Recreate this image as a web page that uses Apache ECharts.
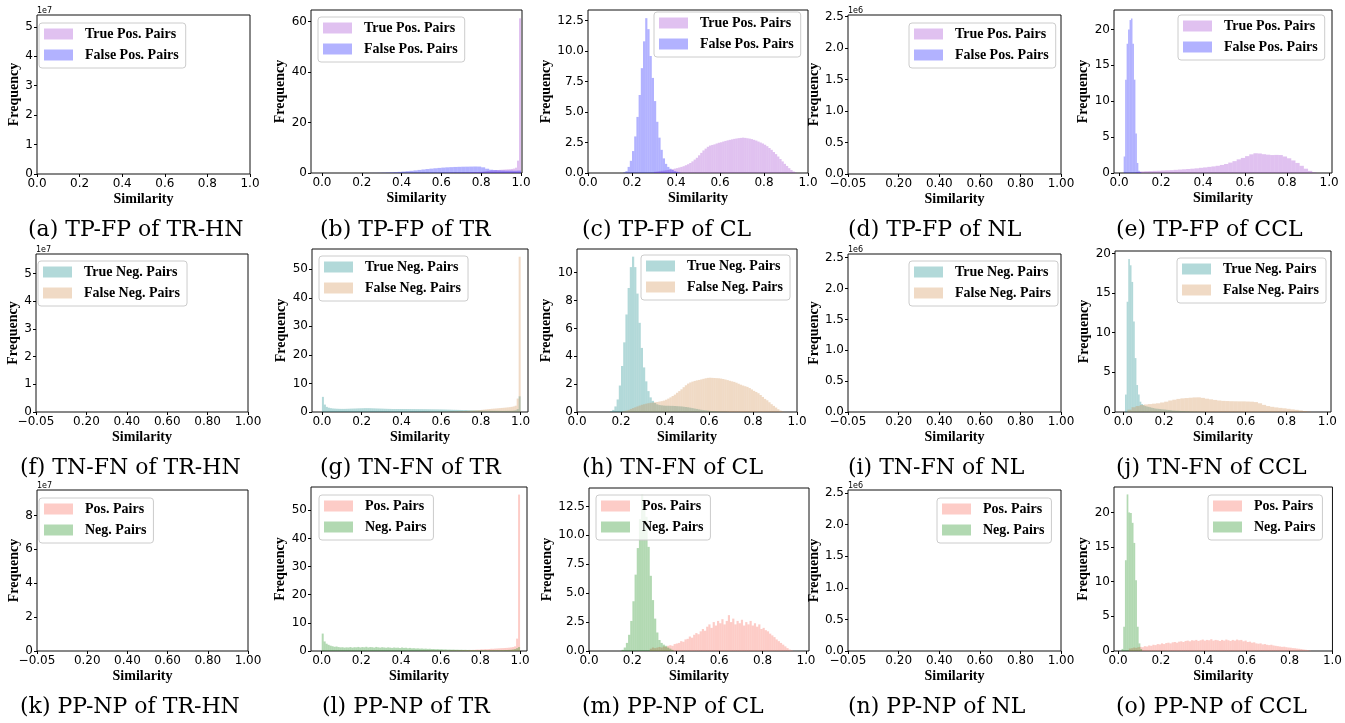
<!DOCTYPE html>
<html><head><meta charset="utf-8">
<script src="https://cdn.jsdelivr.net/npm/echarts@6/dist/echarts.min.js"></script>
<style>html,body{margin:0;padding:0;background:#fff}#c{width:1345px;height:723px}</style>
</head><body><div id="c"></div>
<script>
// ---------------- DATA (histogram bin heights, density) ----------------
const NAMES_TPFP = ['True Pos. Pairs', 'False Pos. Pairs'];
const NAMES_TNFN = ['True Neg. Pairs', 'False Neg. Pairs'];
const NAMES_PPNP = ['Pos. Pairs', 'Neg. Pairs'];
const CAPTIONS = ['(a) TP-FP of TR-HN','(b) TP-FP of TR','(c) TP-FP of CL','(d) TP-FP of NL','(e) TP-FP of CCL',
  '(f) TN-FN of TR-HN','(g) TN-FN of TR','(h) TN-FN of CL','(i) TN-FN of NL','(j) TN-FN of CCL',
  '(k) PP-NP of TR-HN','(l) PP-NP of TR','(m) PP-NP of CL','(n) PP-NP of NL','(o) PP-NP of CCL'];

// tick values
const ticksX01 = [0, 0.2, 0.4, 0.6, 0.8, 1.0];
const ticksXNeg = [-0.05, 0.2, 0.4, 0.6, 0.8, 1.0];
const ticksY5 = [0, 1, 2, 3, 4, 5];
const ticksY60 = [0, 20, 40, 60];
const ticksY12 = [0, 2.5, 5, 7.5, 10, 12.5];
const ticksY25 = [0, 0.5, 1, 1.5, 2, 2.5];
const ticksY20 = [0, 5, 10, 15, 20];
const ticksY50 = [0, 10, 20, 30, 40, 50];
const ticksY10 = [0, 2, 4, 6, 8, 10];
const ticksY8 = [0, 2, 4, 6, 8];

// (b) TR  TP-FP
const bTP_bins = [0.60, 0.01];
const bTP = [0.05,0.05,0.06,0.07,0.08,0.09,0.10,0.11,0.12,0.13,0.15,0.17,0.19,0.21,0.24,0.27,0.30,0.34,0.38,0.43,
  0.50,0.60,0.72,0.85,0.95,1.05,1.10,1.15,1.20,1.25,1.30,1.35,1.40,1.45,1.50,1.60,1.75,2.10,4.90,61.3];
const bFP_bins = [0.24, 0.02];
const bFP = [0.03,0.05,0.08,0.12,0.18,0.25,0.34,0.45,0.58,0.72,0.88,1.05,1.22,1.40,1.57,1.73,1.88,2.02,2.15,2.25,
  2.33,2.40,2.45,2.50,2.52,2.55,2.58,2.55,2.25,1.70,1.30,1.15,1.05,1.00,0.95,0.95,0.90,0.95];
// (c) CL  TP-FP
const cTP_bins = [0.30, 0.01];
const cTP = [0.10,0.12,0.15,0.18,0.20,0.22,0.25,0.28,0.32,0.36,0.40,0.45,0.50,0.56,0.64,0.72,0.82,0.95,1.10,1.25,
  1.45,1.65,1.85,2.00,2.15,2.25,2.30,2.35,2.42,2.48,2.52,2.58,2.63,2.68,2.72,2.76,2.80,2.83,2.86,2.88,
  2.90,2.88,2.85,2.82,2.78,2.72,2.66,2.58,2.50,2.42,2.32,2.20,2.05,1.90,1.72,1.55,1.35,1.15,0.95,0.75,
  0.58,0.40,0.25,0.12,0.04];
const cFP_bins = [0.16, 0.01];
const cFP = [0.05,0.15,0.50,1.00,1.80,3.00,4.60,6.40,8.60,10.8,12.7,11.8,9.6,7.8,5.9,4.2,2.9,1.9,1.2,0.75,
  0.50,0.35,0.25,0.15,0.10,0.05];
// (e) CCL TP-FP
const eTP_bins = [0.08, 0.02];
const eTP = [0.15,0.22,0.25,0.27,0.30,0.32,0.35,0.38,0.40,0.44,0.48,0.52,0.56,0.60,0.65,0.72,0.78,0.85,0.92,1.00,
  1.12,1.25,1.45,1.65,1.90,2.10,2.35,2.60,2.75,2.72,2.62,2.55,2.50,2.52,2.50,2.30,2.05,1.75,1.40,1.00,
  0.60,0.30,0.08];
const eFP_bins = [0.022, 0.007];
const eFP = [2.3,13.0,18.0,20.0,21.3,21.5,18.0,13.0,5.5,1.4,0.3,0.1];
// (g) TR  TN-FN
const gTN_bins = [0.0, 0.01];
const gTN = [5.3,2.6,1.8,1.5,1.35,1.25,1.2,1.15,1.12,1.1, 1.1,1.1,1.12,1.15,1.18,1.2,1.22,1.25,1.28,1.3,
  1.32,1.35,1.35,1.35,1.33,1.3,1.28,1.25,1.22,1.2, 1.18,1.15,1.12,1.1,1.08,1.05,1.05,1.05,1.05,1.05,
  1.05,1.04,1.04,1.03,1.03,1.02,1.02,1.01,1.01,1.0, 1.0,0.99,0.98,0.97,0.96,0.95,0.94,0.93,0.92,0.91,
  0.9,0.88,0.86,0.84,0.82,0.8,0.78,0.76,0.74,0.72, 0.7,0.68,0.66,0.64,0.62,0.6,0.58,0.56,0.54,0.52,
  0.5,0.49,0.48,0.47,0.46,0.45,0.44,0.43,0.42,0.41, 0.4,0.4,0.41,0.42,0.43,0.45,0.5,0.6,1.0,5.5];
const gFN_bins = [0.50, 0.01];
const gFN = [0.05,0.05,0.06,0.06,0.07,0.07,0.08,0.08,0.09,0.10, 0.11,0.12,0.13,0.14,0.16,0.18,0.20,0.22,0.24,0.27,
  0.30,0.33,0.36,0.40,0.44,0.48,0.52,0.57,0.62,0.68, 0.75,0.82,0.90,0.98,1.05,1.12,1.18,1.24,1.30,1.36,
  1.42,1.48,1.55,1.62,1.70,1.80,1.95,2.20,4.70,54.4];
// (h) CL  TN-FN
const hTN_bins = [0.15, 0.01];
const hTN = [0.05,0.15,0.4,0.9,1.9,3.3,5.0,7.0,8.9,10.4, 11.15,10.4,8.5,6.4,4.6,3.2,2.2,1.5,1.05,0.8,
  0.65,0.55,0.5,0.48,0.46,0.45,0.45,0.44,0.44,0.43, 0.42,0.41,0.4,0.38,0.36,0.34,0.31,0.28,0.25,0.22,
  0.19,0.16,0.14,0.12,0.1,0.08,0.07,0.06,0.05,0.04, 0.03,0.02,0.02,0.01];
const hFN_bins = [0.20, 0.01];
const hFN = [0.03,0.06,0.1,0.15,0.22,0.28,0.34,0.4,0.46,0.52, 0.56,0.6,0.63,0.66,0.68,0.7,0.72,0.75,0.78,0.82,
  0.88,0.96,1.05,1.15,1.25,1.38,1.5,1.63,1.78,1.92, 2.04,2.12,2.18,2.23,2.27,2.3,2.34,2.38,2.42,2.45,
  2.46,2.45,2.44,2.43,2.42,2.4,2.37,2.33,2.29,2.24, 2.2,2.16,2.1,2.03,1.96,1.9,1.85,1.8,1.72,1.62,
  1.52,1.44,1.35,1.22,1.08,0.94,0.84,0.7,0.56,0.44, 0.32,0.2,0.1,0.04];
// (j) CCL TN-FN
const jTN_bins = [0.008, 0.008];
const jTN = [2.2,13.9,19.3,18.5,16.4,11.4,6.8,3.4,2.2,1.3, 1.0,0.85,0.75,0.7,0.65,0.6,0.55,0.5,0.45,0.42,
  0.4,0.37,0.35,0.33,0.3,0.28,0.26,0.24,0.22,0.2, 0.18,0.16,0.15,0.14,0.13,0.12,0.11,0.1,0.09,0.08,
  0.07,0.06,0.05,0.05,0.04,0.04,0.03,0.03,0.02,0.02];
const jFN_bins = [0.02, 0.02];
const jFN = [0.3,0.6,0.75,0.88,0.95,1.0,1.05,1.1,1.2,1.3, 1.45,1.55,1.65,1.72,1.76,1.8,1.84,1.85,1.78,1.68,
  1.6,1.52,1.45,1.4,1.38,1.36,1.35,1.34,1.34,1.32, 1.3,1.25,1.1,0.9,0.75,0.65,0.58,0.52,0.47,0.4,
  0.33,0.27,0.2,0.12,0.05];
// (l) TR  PP-NP
const lPos_bins = [0.50, 0.01];
const lPos = [0.08,0.06,0.09,0.07,0.1,0.08,0.11,0.09,0.12,0.1, 0.14,0.12,0.16,0.14,0.18,0.16,0.21,0.19,0.24,0.22,
  0.28,0.26,0.32,0.3,0.36,0.4,0.38,0.45,0.5,0.48, 0.6,0.58,0.66,0.64,0.72,0.8,0.78,0.86,0.9,0.95,
  1.0,1.02,1.08,1.12,1.2,1.28,1.4,1.65,4.4,55.6];
const lNeg_bins = [0.0, 0.01];
const lNeg = [6.2,3.4,2.6,2.2,1.9,1.7,1.5,1.6,1.4,1.3, 1.35,1.2,1.3,1.25,1.4,1.2,1.35,1.3,1.45,1.25,
  1.4,1.3,1.5,1.25,1.4,1.35,1.2,1.45,1.3,1.2, 1.35,1.25,1.15,1.3,1.2,1.1,1.25,1.15,1.2,1.05,
  1.25,1.1,1.15,1.0,1.1,0.95,1.0,0.9,0.95,0.85, 0.9,0.8,0.85,0.75,0.8,0.7,0.72,0.65,0.68,0.6,
  0.62,0.55,0.58,0.5,0.52,0.48,0.5,0.45,0.46,0.42, 0.44,0.4,0.42,0.38,0.4,0.36,0.38,0.35,0.36,0.33,
  0.35,0.32,0.34,0.3,0.32,0.3,0.31,0.3,0.32,0.3, 0.33,0.32,0.35,0.36,0.4,0.45,0.55,0.7,1.0,1.4];
// (m) CL  PP-NP
const mPos_bins = [0.28, 0.01];
const mPos = [0.2,0.3,0.25,0.3,0.35,0.3,0.4,0.35,0.45,0.5, 0.45,0.6,0.65,0.7,0.85,0.8,1.0,1.05,1.25,1.15,
  1.4,1.55,1.45,1.7,1.9,1.75,2.1,2.3,2.0,2.5, 2.2,2.6,2.4,2.75,2.3,2.6,3.1,2.5,2.8,2.3,
  2.6,2.4,2.7,2.2,2.5,2.3,2.6,2.2,2.4,2.1, 2.3,1.9,2.0,1.8,1.7,1.5,1.35,1.2,1.0,0.85,
  0.7,0.55,0.4,0.25,0.12,0.05];
const mNeg_bins = [0.15, 0.01];
const mNeg = [0.1,0.3,0.7,1.4,2.6,4.3,6.6,8.9,11.4,13.5, 13.0,11.6,9.0,6.5,4.4,2.8,1.6,0.95,0.7,0.55,
  0.45,0.3,0.2,0.1];
// (o) CCL PP-NP
const oPos_bins = [0.05, 0.01];
const oPos = [0.35,0.4,0.5,0.45,0.55,0.6,0.55,0.7,0.65,0.8, 0.75,0.9,0.85,1.0,0.95,1.1,1.0,1.15,1.2,1.1,
  1.25,1.3,1.2,1.35,1.4,1.3,1.45,1.5,1.4,1.55, 1.5,1.6,1.45,1.55,1.65,1.5,1.6,1.55,1.7,1.5,
  1.6,1.55,1.45,1.6,1.5,1.65,1.55,1.45,1.6,1.5, 1.65,1.55,1.6,1.4,1.5,1.3,1.35,1.2,1.25,1.1,
  1.05,1.1,0.95,1.0,0.9,0.85,0.9,0.8,0.75,0.7, 0.65,0.6,0.62,0.55,0.5,0.48,0.42,0.4,0.35,0.32,
  0.28,0.22,0.18,0.12,0.06];
const oNeg_bins = [0.016, 0.008];
const oNeg = [0.3,3.5,13.1,22.6,20.0,19.9,18.5,15.6,10.2,3.5,1.1,0.3];
const EMPTY = [];

// ---------------- STYLES ----------------
const COL = {
  'True Pos. Pairs': 'rgba(153,50,204,0.3)', 'False Pos. Pairs': 'rgba(0,0,255,0.3)',
  'True Neg. Pairs': 'rgba(0,128,128,0.3)', 'False Neg. Pairs': 'rgba(205,133,63,0.3)',
  'Pos. Pairs': 'rgba(250,128,114,0.4)', 'Neg. Pairs': 'rgba(0,128,0,0.3)'
};

// ---------------- LAYOUT ----------------
const P = [
 {g:[37,15,250,174],  xr:[0,1],        xt:ticksX01, xd:1, ym:5.4,   yt:ticksY5,  yd:0, off:'1e7', lg:[39,23],   yg:13, cp:[28,231],  n:NAMES_TPFP, s:[[EMPTY,[0,0.01]],[EMPTY,[0,0.01]]]},
 {g:[311,10,522,173], xr:[-0.055,1.005],xt:ticksX01, xd:1, ym:64.6,  yt:ticksY60, yd:0, lg:[318,17],  yg:22, cp:[320,231], n:NAMES_TPFP, s:[[bTP,bTP_bins],[bFP,bFP_bins]]},
 {g:[588,10,808,173], xr:[0,1],        xt:ticksX01, xd:1, ym:13.37, yt:ticksY12, yd:1, lg:[654,12],  yg:33, cp:[582,231], n:NAMES_TPFP, s:[[cTP,cTP_bins],[cFP,cFP_bins]]},
 {g:[848,15,1061,174],xr:[-0.05,1],    xt:ticksXNeg,xd:2, ym:2.525, yt:ticksY25, yd:1, off:'1e6', lg:[909,23],  yg:25, cp:[848,231], n:NAMES_TPFP, s:[[EMPTY,[0,0.01]],[EMPTY,[0,0.01]]]},
 {g:[1114,10,1332,173],xr:[-0.024,1.014],xt:ticksX01,xd:1, ym:22.7,  yt:ticksY20, yd:0, lg:[1178,15], yg:22, cp:[1116,231],n:NAMES_TPFP, s:[[eTP,eTP_bins],[eFP,eFP_bins]]},

 {g:[36,254,248,412], xr:[-0.05,1],    xt:ticksXNeg,xd:2, ym:5.71,  yt:ticksY5,  yd:0, off:'1e7', lg:[38,261],  yg:15, cp:[20,469],  n:NAMES_TNFN, s:[[EMPTY,[0,0.01]],[EMPTY,[0,0.01]]]},
 {g:[312,249,528,412],xr:[-0.05,1.037],xt:ticksX01, xd:1, ym:57.1,  yt:ticksY50, yd:0, lg:[319,256], yg:23, cp:[320,469], n:NAMES_TNFN, s:[[gTN,gTN_bins],[gFN,gFN_bins]]},
 {g:[577,249,797,412],xr:[0,1],        xt:ticksX01, xd:1, ym:11.7,  yt:ticksY10, yd:0, lg:[641,255], yg:23, cp:[582,469], n:NAMES_TNFN, s:[[hTN,hTN_bins],[hFN,hFN_bins]]},
 {g:[848,254,1061,412],xr:[-0.05,1],   xt:ticksXNeg,xd:2, ym:2.56,  yt:ticksY25, yd:1, off:'1e6', lg:[909,261], yg:25, cp:[848,469], n:NAMES_TNFN, s:[[EMPTY,[0,0.01]],[EMPTY,[0,0.01]]]},
 {g:[1115,251,1331,412],xr:[-0.041,1.018],xt:ticksX01,xd:1,ym:20.3,  yt:ticksY20, yd:0, lg:[1177,258],yg:22, cp:[1116,469],n:NAMES_TNFN, s:[[jTN,jTN_bins],[jFN,jFN_bins]]},

 {g:[37,490,248,651], xr:[-0.05,1],    xt:ticksXNeg,xd:2, ym:9.5,   yt:ticksY8,  yd:0, off:'1e7', lg:[39,498],  yg:14, cp:[20,708],  n:NAMES_PPNP, s:[[EMPTY,[0,0.01]],[EMPTY,[0,0.01]]]},
 {g:[311,487,527,651],xr:[-0.054,1.035],xt:ticksX01,xd:1, ym:58.3,  yt:ticksY50, yd:0, lg:[319,495], yg:22, cp:[322,708], n:NAMES_PPNP, s:[[lPos,lPos_bins],[lNeg,lNeg_bins]]},
 {g:[589,488,809,651],xr:[0,1.014],    xt:ticksX01, xd:1, ym:14.09, yt:ticksY12, yd:1, lg:[596,495], yg:35, cp:[582,708], n:NAMES_PPNP, s:[[mPos,mPos_bins],[mNeg,mNeg_bins]]},
 {g:[848,490,1061,651],xr:[-0.05,1],   xt:ticksXNeg,xd:2, ym:2.55,  yt:ticksY25, yd:1, off:'1e6', lg:[937,498], yg:25, cp:[848,708], n:NAMES_PPNP, s:[[EMPTY,[0,0.01]],[EMPTY,[0,0.01]]]},
 {g:[1114,487,1333,651],xr:[-0.019,1.0],xt:ticksX01,xd:1, ym:23.67, yt:ticksY20, yd:0, lg:[1208,495],yg:23, cp:[1116,708],n:NAMES_PPNP, s:[[oPos,oPos_bins],[oNeg,oNeg_bins]]}
];

const fmt = (d) => (v) => { const s = (+v).toFixed(d); return s.charAt(0) === '-' ? '\u2212' + s.slice(1) : s; };
const TICK = {fontFamily: 'DejaVu Sans', fontSize: 12, color: '#000'};
const NAMEF = {fontFamily: 'Liberation Serif', fontWeight: 'bold', fontSize: 14, color: '#000'};

const grid = [], xAxis = [], yAxis = [], series = [], legend = [], graphic = [];
P.forEach((p, i) => {
  grid.push({left: p.g[0], top: p.g[1], width: p.g[2] - p.g[0], height: p.g[3] - p.g[1],
    show: true, borderColor: '#111', borderWidth: 1, backgroundColor: 'transparent'});
  xAxis.push({type: 'value', gridIndex: i, min: p.xr[0], max: p.xr[1],
    axisLine: {show: false, onZero: false}, splitLine: {show: false},
    axisTick: {show: true, customValues: p.xt, length: 3, lineStyle: {color: '#000'}},
    axisLabel: Object.assign({customValues: p.xt, formatter: fmt(p.xd), margin: 4}, TICK),
    name: 'Similarity', nameLocation: 'middle', nameGap: 18, nameTextStyle: NAMEF});
  yAxis.push({type: 'value', gridIndex: i, min: 0, max: p.ym,
    axisLine: {show: false, onZero: false}, splitLine: {show: false},
    axisTick: {show: true, customValues: p.yt, length: 3, lineStyle: {color: '#000'}},
    axisLabel: Object.assign({customValues: p.yt, formatter: fmt(p.yd), margin: 4}, TICK),
    name: 'Frequency', nameLocation: 'middle', nameGap: p.yg, nameTextStyle: NAMEF});
  p.s.forEach((sd, k) => {
    const name = p.n[k], color = COL[name];
    const vals = sd[0], start = sd[1][0], w = sd[1][1];
    series.push({type: 'custom', name, xAxisIndex: i, yAxisIndex: i, clip: true,
      itemStyle: {color}, encode: {x: [0, 1], y: 2}, silent: true,
      data: vals.map((v, j) => [start + j * w, start + (j + 1) * w, v]),
      renderItem: (params, api) => {
        const a = api.coord([api.value(0), api.value(2)]);
        const b = api.coord([api.value(1), 0]);
        return {type: 'rect', shape: {x: a[0], y: a[1], width: b[0] - a[0], height: b[1] - a[1]},
          style: {fill: color}};
      }});
  });
  legend.push({left: p.lg[0], top: p.lg[1], orient: 'vertical', selectedMode: false,
    data: p.n.map(nm => ({name: nm, icon: 'rect'})),
    itemWidth: 29, itemHeight: 11, itemGap: 7, padding: [4, 7, 6, 5],
    backgroundColor: 'rgba(255,255,255,0.8)', borderColor: '#cccccc', borderWidth: 1, borderRadius: 3,
    textStyle: {fontFamily: 'Liberation Serif', fontWeight: 'bold', fontSize: 14, color: '#000', padding: [0, 0, 0, 7]}});
  if (p.off) graphic.push({type: 'text', left: p.g[0], top: p.g[1] - 8,
    style: {text: p.off, font: '8px "DejaVu Sans"', fill: '#000'}});
  graphic.push({type: 'text', left: p.cp[0], top: p.cp[1] - 12,
    style: {text: CAPTIONS[i], font: '22px "DejaVu Serif"', fill: '#000'}});
});

const chart = echarts.init(document.getElementById('c'), null, {renderer: 'canvas'});
chart.setOption({animation: false, backgroundColor: '#fff', grid, xAxis, yAxis, series, legend, graphic});
</script></body></html>
